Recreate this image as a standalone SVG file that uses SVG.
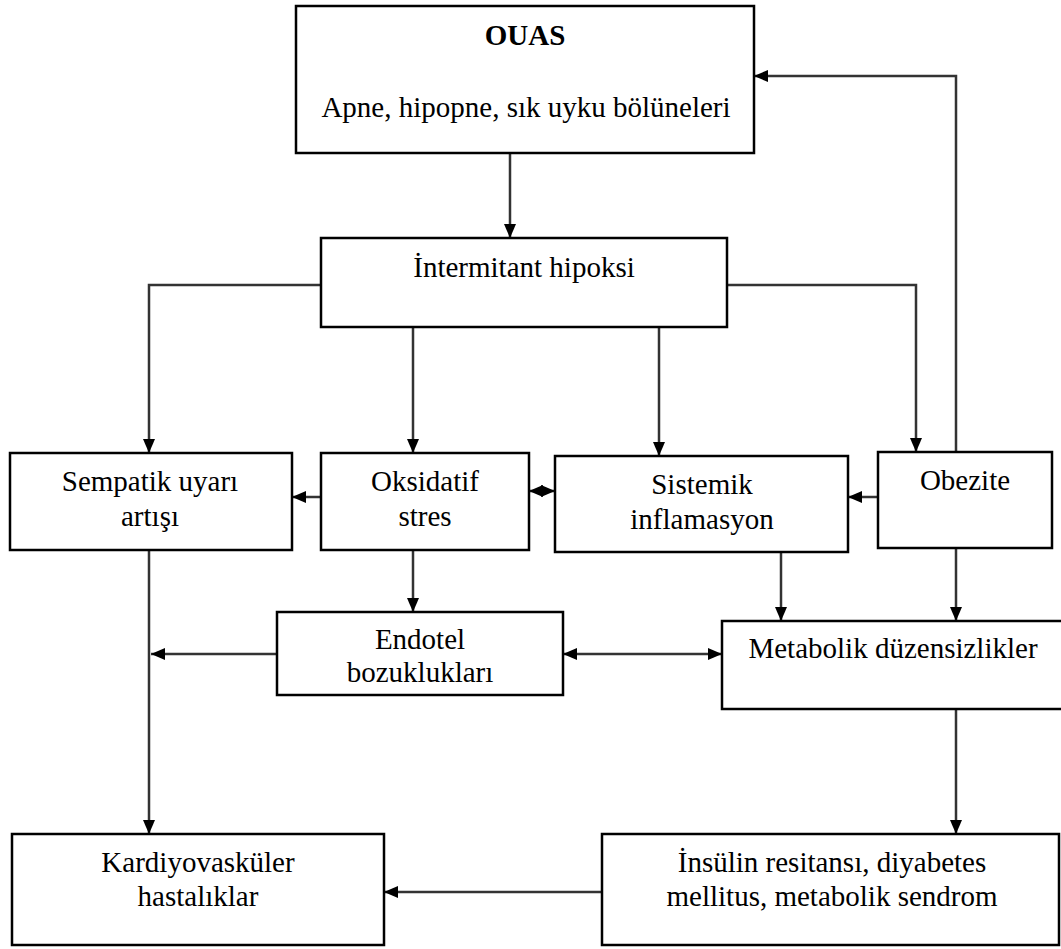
<svg xmlns="http://www.w3.org/2000/svg" width="1061" height="949" viewBox="0 0 1061 949">
<style>
.box{fill:#fff;stroke:#000;stroke-width:2.5}
.t{font-family:"Liberation Serif","Times New Roman",serif;font-size:29px;fill:#000;text-anchor:middle}
.b{font-weight:bold}
.c{fill:none;stroke:#333;stroke-width:2.5}
</style>
<defs>
<marker id="ah" markerUnits="userSpaceOnUse" markerWidth="14" markerHeight="12" refX="14" refY="6" orient="auto-start-reverse" viewBox="0 0 14 12">
<path d="M0,0 L14,6 L0,12 z" fill="#000"/>
</marker>
</defs>
<rect width="1061" height="949" fill="#fff"/>
<g id="connectors">
<path class="c" d="M510,153 V238" marker-end="url(#ah)"/>
<path class="c" d="M321,285 H149 V453" marker-end="url(#ah)"/>
<path class="c" d="M413,327 V453" marker-end="url(#ah)"/>
<path class="c" d="M659,327 V456" marker-end="url(#ah)"/>
<path class="c" d="M727,285 H916 V452" marker-end="url(#ah)"/>
<path class="c" d="M956,452 V76 H754" marker-end="url(#ah)"/>
<path class="c" d="M321,497 H292" marker-end="url(#ah)"/>
<path class="c" d="M529,491 H555" marker-start="url(#ah)" marker-end="url(#ah)"/>
<path class="c" d="M878,497 H848" marker-end="url(#ah)"/>
<path class="c" d="M149,550 V834" marker-end="url(#ah)"/>
<path class="c" d="M413,550 V612" marker-end="url(#ah)"/>
<path class="c" d="M277,654 H151" marker-end="url(#ah)"/>
<path class="c" d="M563,654 H722" marker-start="url(#ah)" marker-end="url(#ah)"/>
<path class="c" d="M781,552 V621" marker-end="url(#ah)"/>
<path class="c" d="M956,548 V621" marker-end="url(#ah)"/>
<path class="c" d="M956,709 V834" marker-end="url(#ah)"/>
<path class="c" d="M602,892 H384" marker-end="url(#ah)"/>
</g>
<g id="ouas">
<rect class="box" x="296" y="6" width="458" height="147"/>
<text class="t b" x="525" y="45">OUAS</text>
<text class="t" x="526" y="117">Apne, hipopne, sık uyku bölüneleri</text>
</g>
<g id="intermitant">
<rect class="box" x="321" y="238" width="406" height="89"/>
<text class="t" x="524" y="277">İntermitant hipoksi</text>
</g>
<g id="sempatik">
<rect class="box" x="10" y="453" width="282" height="97"/>
<text class="t" x="150" y="491">Sempatik uyarı</text>
<text class="t" x="150" y="526">artışı</text>
</g>
<g id="oksidatif">
<rect class="box" x="321" y="453" width="208" height="97"/>
<text class="t" x="425" y="491">Oksidatif</text>
<text class="t" x="425" y="526">stres</text>
</g>
<g id="sistemik">
<rect class="box" x="555" y="456" width="293" height="96"/>
<text class="t" x="702" y="494">Sistemik</text>
<text class="t" x="702" y="529">inflamasyon</text>
</g>
<g id="obezite">
<rect class="box" x="878" y="452" width="174" height="96"/>
<text class="t" x="965" y="490">Obezite</text>
</g>
<g id="endotel">
<rect class="box" x="277" y="612" width="286" height="83"/>
<text class="t" x="420" y="649">Endotel</text>
<text class="t" x="420" y="682">bozuklukları</text>
</g>
<g id="metabolik">
<rect class="box" x="722" y="621" width="345" height="88"/>
<text class="t" x="893" y="658">Metabolik düzensizlikler</text>
</g>
<g id="kardiyo">
<rect class="box" x="12" y="834" width="372" height="111"/>
<text class="t" x="198" y="872">Kardiyovasküler</text>
<text class="t" x="198" y="906">hastalıklar</text>
</g>
<g id="insulin">
<rect class="box" x="602" y="834" width="457" height="111"/>
<text class="t" x="832" y="872">İnsülin resitansı, diyabetes</text>
<text class="t" x="832" y="906">mellitus, metabolik sendrom</text>
</g>
</svg>
